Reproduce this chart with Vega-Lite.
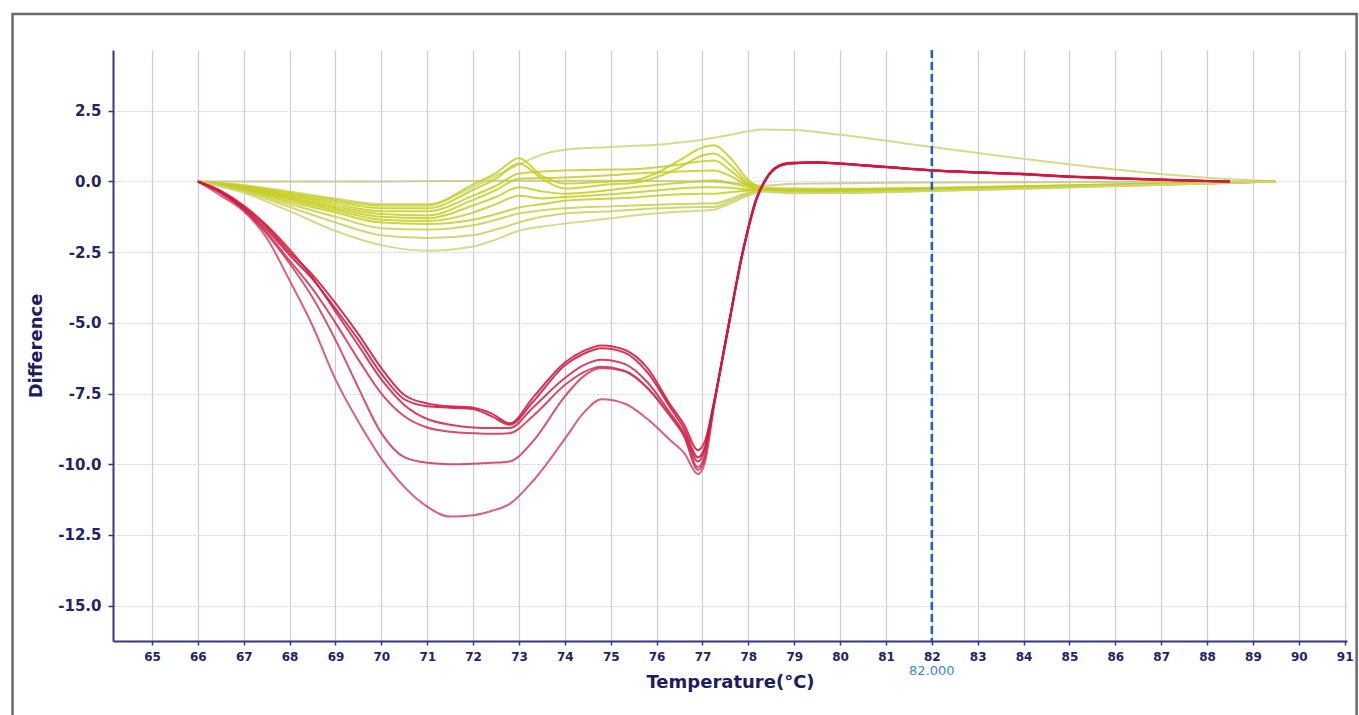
{
"$schema":"https://vega.github.io/schema/vega-lite/v6.json",
"width":1234,"height":591,
"autosize":{"type":"none"},
"padding":{"left":113,"top":50,"right":12,"bottom":74},
"background":"white",
"config":{
 "view":{"stroke":null},
 "font":"DejaVu Sans",
 "axis":{"domainColor":"#35358a","domainWidth":2,"tickColor":"#35358a","tickWidth":1.5,"labelColor":"#22226a","labelFont":"DejaVu Sans","labelFontWeight":"bold","titleColor":"#1c1c5e","titleFont":"DejaVu Sans","titleFontWeight":"bold","titleFontSize":18,"gridColor":"#c9cbe0","gridWidth":1.2},
 "axisX":{"labelFontSize":12,"tickSize":4,"labelPadding":6,"titlePadding":11},
 "axisY":{"labelFontSize":15,"tickSize":5,"labelPadding":7,"titlePadding":12,"gridDash":[2,2]}
},
"datasets":{
"yellow":[
{"s":"Y0","t":66,"v":0},{"s":"Y0","t":70,"v":0},{"s":"Y0","t":72,"v":0.02},{"s":"Y0","t":74,"v":0.03},{"s":"Y0","t":76,"v":0.02},{"s":"Y0","t":77,"v":0},{"s":"Y0","t":78,"v":-0.1},{"s":"Y0","t":78.3,"v":-0.15},{"s":"Y0","t":79,"v":-0.08},{"s":"Y0","t":82,"v":-0.04},{"s":"Y0","t":86,"v":-0.02},{"s":"Y0","t":89.5,"v":0},
{"s":"Y1","t":66,"v":0},{"s":"Y1","t":67,"v":-0.12},{"s":"Y1","t":68,"v":-0.35},{"s":"Y1","t":69,"v":-0.6},{"s":"Y1","t":70,"v":-0.8},{"s":"Y1","t":71,"v":-0.8},{"s":"Y1","t":72,"v":-0.2},{"s":"Y1","t":72.5,"v":0.2},{"s":"Y1","t":73,"v":0.6},{"s":"Y1","t":73.5,"v":0.95},{"s":"Y1","t":74,"v":1.12},{"s":"Y1","t":75,"v":1.22},{"s":"Y1","t":75.5,"v":1.26},{"s":"Y1","t":76,"v":1.3},{"s":"Y1","t":76.5,"v":1.38},{"s":"Y1","t":77,"v":1.48},{"s":"Y1","t":77.25,"v":1.55},{"s":"Y1","t":77.6,"v":1.65},{"s":"Y1","t":78,"v":1.78},{"s":"Y1","t":78.3,"v":1.84},{"s":"Y1","t":79,"v":1.82},{"s":"Y1","t":80,"v":1.65},{"s":"Y1","t":82,"v":1.22},{"s":"Y1","t":84,"v":0.8},{"s":"Y1","t":86,"v":0.42},{"s":"Y1","t":88,"v":0.13},{"s":"Y1","t":89.5,"v":0},
{"s":"Y2","t":66,"v":0},{"s":"Y2","t":67,"v":-0.15},{"s":"Y2","t":68,"v":-0.4},{"s":"Y2","t":69,"v":-0.65},{"s":"Y2","t":70,"v":-0.85},{"s":"Y2","t":71,"v":-0.85},{"s":"Y2","t":72,"v":-0.1},{"s":"Y2","t":72.5,"v":0.3},{"s":"Y2","t":73,"v":0.82},{"s":"Y2","t":73.5,"v":0.2},{"s":"Y2","t":74,"v":-0.07},{"s":"Y2","t":75,"v":0},{"s":"Y2","t":75.5,"v":0.04},{"s":"Y2","t":76,"v":0.3},{"s":"Y2","t":76.5,"v":0.75},{"s":"Y2","t":77,"v":1.2},{"s":"Y2","t":77.25,"v":1.28},{"s":"Y2","t":77.6,"v":0.85},{"s":"Y2","t":78,"v":0.05},{"s":"Y2","t":78.3,"v":-0.22},{"s":"Y2","t":79,"v":-0.25},{"s":"Y2","t":80,"v":-0.26},{"s":"Y2","t":82,"v":-0.22},{"s":"Y2","t":84,"v":-0.16},{"s":"Y2","t":86,"v":-0.1},{"s":"Y2","t":88,"v":-0.04},{"s":"Y2","t":89.5,"v":0},
{"s":"Y3","t":66,"v":0},{"s":"Y3","t":67,"v":-0.17},{"s":"Y3","t":68,"v":-0.45},{"s":"Y3","t":69,"v":-0.72},{"s":"Y3","t":70,"v":-0.95},{"s":"Y3","t":71,"v":-0.95},{"s":"Y3","t":72,"v":-0.3},{"s":"Y3","t":72.5,"v":0.1},{"s":"Y3","t":73,"v":0.64},{"s":"Y3","t":73.5,"v":0.1},{"s":"Y3","t":74,"v":-0.25},{"s":"Y3","t":75,"v":-0.1},{"s":"Y3","t":75.5,"v":-0.05},{"s":"Y3","t":76,"v":0.15},{"s":"Y3","t":76.5,"v":0.5},{"s":"Y3","t":77,"v":0.92},{"s":"Y3","t":77.25,"v":0.99},{"s":"Y3","t":77.6,"v":0.6},{"s":"Y3","t":78,"v":-0.05},{"s":"Y3","t":78.3,"v":-0.25},{"s":"Y3","t":79,"v":-0.28},{"s":"Y3","t":80,"v":-0.28},{"s":"Y3","t":82,"v":-0.24},{"s":"Y3","t":84,"v":-0.18},{"s":"Y3","t":86,"v":-0.11},{"s":"Y3","t":88,"v":-0.05},{"s":"Y3","t":89.5,"v":0},
{"s":"Y4","t":66,"v":0},{"s":"Y4","t":67,"v":-0.2},{"s":"Y4","t":68,"v":-0.5},{"s":"Y4","t":69,"v":-0.8},{"s":"Y4","t":70,"v":-1.05},{"s":"Y4","t":71,"v":-1.05},{"s":"Y4","t":72,"v":-0.5},{"s":"Y4","t":72.5,"v":-0.15},{"s":"Y4","t":73,"v":0.28},{"s":"Y4","t":73.5,"v":0.35},{"s":"Y4","t":74,"v":0.39},{"s":"Y4","t":75,"v":0.42},{"s":"Y4","t":75.5,"v":0.43},{"s":"Y4","t":76,"v":0.5},{"s":"Y4","t":76.5,"v":0.6},{"s":"Y4","t":77,"v":0.72},{"s":"Y4","t":77.25,"v":0.74},{"s":"Y4","t":77.6,"v":0.4},{"s":"Y4","t":78,"v":-0.1},{"s":"Y4","t":78.3,"v":-0.28},{"s":"Y4","t":79,"v":-0.3},{"s":"Y4","t":80,"v":-0.3},{"s":"Y4","t":82,"v":-0.26},{"s":"Y4","t":84,"v":-0.19},{"s":"Y4","t":86,"v":-0.12},{"s":"Y4","t":88,"v":-0.05},{"s":"Y4","t":89.5,"v":0},
{"s":"Y5","t":66,"v":0},{"s":"Y5","t":67,"v":-0.22},{"s":"Y5","t":68,"v":-0.55},{"s":"Y5","t":69,"v":-0.88},{"s":"Y5","t":70,"v":-1.15},{"s":"Y5","t":71,"v":-1.2},{"s":"Y5","t":72,"v":-0.65},{"s":"Y5","t":72.5,"v":-0.3},{"s":"Y5","t":73,"v":0.1},{"s":"Y5","t":73.5,"v":0.12},{"s":"Y5","t":74,"v":0.14},{"s":"Y5","t":75,"v":0.22},{"s":"Y5","t":75.5,"v":0.28},{"s":"Y5","t":76,"v":0.32},{"s":"Y5","t":76.5,"v":0.35},{"s":"Y5","t":77,"v":0.38},{"s":"Y5","t":77.25,"v":0.39},{"s":"Y5","t":77.6,"v":0.2},{"s":"Y5","t":78,"v":-0.15},{"s":"Y5","t":78.3,"v":-0.3},{"s":"Y5","t":79,"v":-0.32},{"s":"Y5","t":80,"v":-0.32},{"s":"Y5","t":82,"v":-0.27},{"s":"Y5","t":84,"v":-0.2},{"s":"Y5","t":86,"v":-0.13},{"s":"Y5","t":88,"v":-0.06},{"s":"Y5","t":89.5,"v":0},
{"s":"Y6","t":66,"v":0},{"s":"Y6","t":67,"v":-0.25},{"s":"Y6","t":68,"v":-0.6},{"s":"Y6","t":69,"v":-0.95},{"s":"Y6","t":70,"v":-1.25},{"s":"Y6","t":71,"v":-1.3},{"s":"Y6","t":72,"v":-0.85},{"s":"Y6","t":72.5,"v":-0.55},{"s":"Y6","t":73,"v":-0.2},{"s":"Y6","t":73.5,"v":-0.35},{"s":"Y6","t":74,"v":-0.43},{"s":"Y6","t":75,"v":-0.3},{"s":"Y6","t":75.5,"v":-0.2},{"s":"Y6","t":76,"v":-0.12},{"s":"Y6","t":76.5,"v":-0.05},{"s":"Y6","t":77,"v":0.02},{"s":"Y6","t":77.25,"v":0.04},{"s":"Y6","t":77.6,"v":-0.05},{"s":"Y6","t":78,"v":-0.2},{"s":"Y6","t":78.3,"v":-0.3},{"s":"Y6","t":79,"v":-0.33},{"s":"Y6","t":80,"v":-0.33},{"s":"Y6","t":82,"v":-0.28},{"s":"Y6","t":84,"v":-0.21},{"s":"Y6","t":86,"v":-0.14},{"s":"Y6","t":88,"v":-0.06},{"s":"Y6","t":89.5,"v":0},
{"s":"Y7","t":66,"v":0},{"s":"Y7","t":67,"v":-0.27},{"s":"Y7","t":68,"v":-0.65},{"s":"Y7","t":69,"v":-1.02},{"s":"Y7","t":70,"v":-1.35},{"s":"Y7","t":71,"v":-1.4},{"s":"Y7","t":72,"v":-1.1},{"s":"Y7","t":72.5,"v":-0.8},{"s":"Y7","t":73,"v":-0.5},{"s":"Y7","t":73.5,"v":-0.6},{"s":"Y7","t":74,"v":-0.55},{"s":"Y7","t":75,"v":-0.45},{"s":"Y7","t":75.5,"v":-0.39},{"s":"Y7","t":76,"v":-0.32},{"s":"Y7","t":76.5,"v":-0.25},{"s":"Y7","t":77,"v":-0.2},{"s":"Y7","t":77.25,"v":-0.2},{"s":"Y7","t":77.6,"v":-0.22},{"s":"Y7","t":78,"v":-0.28},{"s":"Y7","t":78.3,"v":-0.32},{"s":"Y7","t":79,"v":-0.35},{"s":"Y7","t":80,"v":-0.35},{"s":"Y7","t":82,"v":-0.3},{"s":"Y7","t":84,"v":-0.22},{"s":"Y7","t":86,"v":-0.14},{"s":"Y7","t":88,"v":-0.06},{"s":"Y7","t":89.5,"v":0},
{"s":"Y8","t":66,"v":0},{"s":"Y8","t":67,"v":-0.3},{"s":"Y8","t":68,"v":-0.72},{"s":"Y8","t":69,"v":-1.1},{"s":"Y8","t":70,"v":-1.45},{"s":"Y8","t":71,"v":-1.5},{"s":"Y8","t":72,"v":-1.35},{"s":"Y8","t":72.5,"v":-1.15},{"s":"Y8","t":73,"v":-0.92},{"s":"Y8","t":73.5,"v":-0.8},{"s":"Y8","t":74,"v":-0.68},{"s":"Y8","t":75,"v":-0.6},{"s":"Y8","t":75.5,"v":-0.57},{"s":"Y8","t":76,"v":-0.5},{"s":"Y8","t":76.5,"v":-0.45},{"s":"Y8","t":77,"v":-0.43},{"s":"Y8","t":77.25,"v":-0.43},{"s":"Y8","t":77.6,"v":-0.38},{"s":"Y8","t":78,"v":-0.32},{"s":"Y8","t":78.3,"v":-0.3},{"s":"Y8","t":79,"v":-0.36},{"s":"Y8","t":80,"v":-0.36},{"s":"Y8","t":82,"v":-0.31},{"s":"Y8","t":84,"v":-0.23},{"s":"Y8","t":86,"v":-0.15},{"s":"Y8","t":88,"v":-0.07},{"s":"Y8","t":89.5,"v":0},
{"s":"Y9","t":66,"v":0},{"s":"Y9","t":67,"v":-0.33},{"s":"Y9","t":68,"v":-0.8},{"s":"Y9","t":69,"v":-1.25},{"s":"Y9","t":70,"v":-1.65},{"s":"Y9","t":71,"v":-1.7},{"s":"Y9","t":72,"v":-1.55},{"s":"Y9","t":72.5,"v":-1.35},{"s":"Y9","t":73,"v":-1.13},{"s":"Y9","t":73.5,"v":-1.02},{"s":"Y9","t":74,"v":-0.95},{"s":"Y9","t":75,"v":-0.88},{"s":"Y9","t":75.5,"v":-0.85},{"s":"Y9","t":76,"v":-0.82},{"s":"Y9","t":76.5,"v":-0.8},{"s":"Y9","t":77,"v":-0.78},{"s":"Y9","t":77.25,"v":-0.78},{"s":"Y9","t":77.6,"v":-0.62},{"s":"Y9","t":78,"v":-0.4},{"s":"Y9","t":78.3,"v":-0.33},{"s":"Y9","t":79,"v":-0.38},{"s":"Y9","t":80,"v":-0.38},{"s":"Y9","t":82,"v":-0.32},{"s":"Y9","t":84,"v":-0.24},{"s":"Y9","t":86,"v":-0.15},{"s":"Y9","t":88,"v":-0.07},{"s":"Y9","t":89.5,"v":0},
{"s":"Y10","t":66,"v":0},{"s":"Y10","t":67,"v":-0.36},{"s":"Y10","t":68,"v":-0.9},{"s":"Y10","t":69,"v":-1.45},{"s":"Y10","t":70,"v":-1.9},{"s":"Y10","t":71,"v":-2.0},{"s":"Y10","t":72,"v":-1.9},{"s":"Y10","t":72.5,"v":-1.7},{"s":"Y10","t":73,"v":-1.45},{"s":"Y10","t":73.5,"v":-1.25},{"s":"Y10","t":74,"v":-1.13},{"s":"Y10","t":75,"v":-1.05},{"s":"Y10","t":75.5,"v":-1.0},{"s":"Y10","t":76,"v":-0.95},{"s":"Y10","t":76.5,"v":-0.92},{"s":"Y10","t":77,"v":-0.9},{"s":"Y10","t":77.25,"v":-0.9},{"s":"Y10","t":77.6,"v":-0.7},{"s":"Y10","t":78,"v":-0.45},{"s":"Y10","t":78.3,"v":-0.34},{"s":"Y10","t":79,"v":-0.4},{"s":"Y10","t":80,"v":-0.4},{"s":"Y10","t":82,"v":-0.33},{"s":"Y10","t":84,"v":-0.25},{"s":"Y10","t":86,"v":-0.16},{"s":"Y10","t":88,"v":-0.07},{"s":"Y10","t":89.5,"v":0},
{"s":"Y11","t":66,"v":0},{"s":"Y11","t":67,"v":-0.4},{"s":"Y11","t":68,"v":-1.05},{"s":"Y11","t":69,"v":-1.75},{"s":"Y11","t":70,"v":-2.25},{"s":"Y11","t":71,"v":-2.45},{"s":"Y11","t":72,"v":-2.3},{"s":"Y11","t":72.5,"v":-2.05},{"s":"Y11","t":73,"v":-1.74},{"s":"Y11","t":73.5,"v":-1.6},{"s":"Y11","t":74,"v":-1.49},{"s":"Y11","t":75,"v":-1.3},{"s":"Y11","t":75.5,"v":-1.2},{"s":"Y11","t":76,"v":-1.12},{"s":"Y11","t":76.5,"v":-1.07},{"s":"Y11","t":77,"v":-1.03},{"s":"Y11","t":77.25,"v":-1.0},{"s":"Y11","t":77.6,"v":-0.78},{"s":"Y11","t":78,"v":-0.5},{"s":"Y11","t":78.3,"v":-0.36},{"s":"Y11","t":79,"v":-0.42},{"s":"Y11","t":80,"v":-0.41},{"s":"Y11","t":82,"v":-0.34},{"s":"Y11","t":84,"v":-0.26},{"s":"Y11","t":86,"v":-0.16},{"s":"Y11","t":88,"v":-0.07},{"s":"Y11","t":89.5,"v":0}
],
"red":[
{"s":"R5","t":66,"v":0},{"s":"R5","t":66.5,"v":-0.5},{"s":"R5","t":67,"v":-1.05},{"s":"R5","t":67.5,"v":-2.0},{"s":"R5","t":68,"v":-3.5},{"s":"R5","t":68.5,"v":-5.1},{"s":"R5","t":69,"v":-7.0},{"s":"R5","t":69.5,"v":-8.5},{"s":"R5","t":70,"v":-9.8},{"s":"R5","t":70.5,"v":-10.8},{"s":"R5","t":71,"v":-11.5},{"s":"R5","t":71.5,"v":-11.85},{"s":"R5","t":72,"v":-11.8},{"s":"R5","t":72.4,"v":-11.65},{"s":"R5","t":72.8,"v":-11.4},{"s":"R5","t":73.3,"v":-10.6},{"s":"R5","t":74,"v":-9.1},{"s":"R5","t":74.4,"v":-8.2},{"s":"R5","t":74.8,"v":-7.7},{"s":"R5","t":75.3,"v":-7.85},{"s":"R5","t":75.8,"v":-8.4},{"s":"R5","t":76.3,"v":-9.15},{"s":"R5","t":76.6,"v":-9.6},{"s":"R5","t":76.9,"v":-10.35},{"s":"R5","t":77.05,"v":-9.95},{"s":"R5","t":77.25,"v":-7.95},{"s":"R5","t":77.53,"v":-5.47},{"s":"R5","t":77.88,"v":-2.52},{"s":"R5","t":78.18,"v":-0.63},{"s":"R5","t":78.4,"v":0.11},{"s":"R5","t":78.6,"v":0.47},{"s":"R5","t":78.9,"v":0.63},{"s":"R5","t":79.5,"v":0.66},{"s":"R5","t":80,"v":0.62},{"s":"R5","t":81,"v":0.5},{"s":"R5","t":82,"v":0.38},{"s":"R5","t":83,"v":0.31},{"s":"R5","t":84,"v":0.25},{"s":"R5","t":85,"v":0.16},{"s":"R5","t":86,"v":0.1},{"s":"R5","t":87,"v":0.05},{"s":"R5","t":88,"v":0.01},{"s":"R5","t":88.5,"v":0},
{"s":"R4","t":66,"v":0},{"s":"R4","t":66.5,"v":-0.4},{"s":"R4","t":67,"v":-1.0},{"s":"R4","t":67.5,"v":-1.85},{"s":"R4","t":68,"v":-2.9},{"s":"R4","t":68.5,"v":-4.1},{"s":"R4","t":69,"v":-5.6},{"s":"R4","t":69.5,"v":-7.3},{"s":"R4","t":70,"v":-8.9},{"s":"R4","t":70.5,"v":-9.75},{"s":"R4","t":71,"v":-9.95},{"s":"R4","t":71.5,"v":-10.0},{"s":"R4","t":72,"v":-9.98},{"s":"R4","t":72.4,"v":-9.95},{"s":"R4","t":72.8,"v":-9.9},{"s":"R4","t":73.3,"v":-9.2},{"s":"R4","t":74,"v":-7.6},{"s":"R4","t":74.4,"v":-6.9},{"s":"R4","t":74.8,"v":-6.6},{"s":"R4","t":75.3,"v":-6.7},{"s":"R4","t":75.8,"v":-7.3},{"s":"R4","t":76.3,"v":-8.3},{"s":"R4","t":76.6,"v":-9.0},{"s":"R4","t":76.9,"v":-10.2},{"s":"R4","t":77.05,"v":-9.8},{"s":"R4","t":77.25,"v":-7.9},{"s":"R4","t":77.53,"v":-5.45},{"s":"R4","t":77.88,"v":-2.5},{"s":"R4","t":78.18,"v":-0.62},{"s":"R4","t":78.4,"v":0.12},{"s":"R4","t":78.6,"v":0.48},{"s":"R4","t":78.9,"v":0.64},{"s":"R4","t":79.5,"v":0.67},{"s":"R4","t":80,"v":0.63},{"s":"R4","t":81,"v":0.51},{"s":"R4","t":82,"v":0.39},{"s":"R4","t":83,"v":0.32},{"s":"R4","t":84,"v":0.26},{"s":"R4","t":85,"v":0.17},{"s":"R4","t":86,"v":0.11},{"s":"R4","t":87,"v":0.06},{"s":"R4","t":88,"v":0.02},{"s":"R4","t":88.5,"v":0},
{"s":"R3","t":66,"v":0},{"s":"R3","t":66.5,"v":-0.4},{"s":"R3","t":67,"v":-1.0},{"s":"R3","t":67.5,"v":-1.8},{"s":"R3","t":68,"v":-2.8},{"s":"R3","t":68.5,"v":-3.8},{"s":"R3","t":69,"v":-5.0},{"s":"R3","t":69.5,"v":-6.3},{"s":"R3","t":70,"v":-7.5},{"s":"R3","t":70.5,"v":-8.3},{"s":"R3","t":71,"v":-8.7},{"s":"R3","t":71.5,"v":-8.85},{"s":"R3","t":72,"v":-8.9},{"s":"R3","t":72.4,"v":-8.92},{"s":"R3","t":72.8,"v":-8.9},{"s":"R3","t":73.3,"v":-8.3},{"s":"R3","t":74,"v":-7.2},{"s":"R3","t":74.4,"v":-6.75},{"s":"R3","t":74.8,"v":-6.55},{"s":"R3","t":75.3,"v":-6.7},{"s":"R3","t":75.8,"v":-7.3},{"s":"R3","t":76.3,"v":-8.3},{"s":"R3","t":76.6,"v":-9.0},{"s":"R3","t":76.9,"v":-10.1},{"s":"R3","t":77.05,"v":-9.7},{"s":"R3","t":77.25,"v":-7.9},{"s":"R3","t":77.53,"v":-5.45},{"s":"R3","t":77.88,"v":-2.5},{"s":"R3","t":78.18,"v":-0.62},{"s":"R3","t":78.4,"v":0.12},{"s":"R3","t":78.6,"v":0.48},{"s":"R3","t":78.9,"v":0.64},{"s":"R3","t":79.5,"v":0.67},{"s":"R3","t":80,"v":0.63},{"s":"R3","t":81,"v":0.51},{"s":"R3","t":82,"v":0.39},{"s":"R3","t":83,"v":0.32},{"s":"R3","t":84,"v":0.26},{"s":"R3","t":85,"v":0.17},{"s":"R3","t":86,"v":0.11},{"s":"R3","t":87,"v":0.06},{"s":"R3","t":88,"v":0.02},{"s":"R3","t":88.5,"v":0},
{"s":"R2","t":66,"v":0},{"s":"R2","t":66.5,"v":-0.33},{"s":"R2","t":67,"v":-0.85},{"s":"R2","t":67.5,"v":-1.55},{"s":"R2","t":68,"v":-2.4},{"s":"R2","t":68.5,"v":-3.4},{"s":"R2","t":69,"v":-4.6},{"s":"R2","t":69.5,"v":-5.8},{"s":"R2","t":70,"v":-7.0},{"s":"R2","t":70.5,"v":-7.9},{"s":"R2","t":71,"v":-8.4},{"s":"R2","t":71.5,"v":-8.6},{"s":"R2","t":72,"v":-8.7},{"s":"R2","t":72.4,"v":-8.72},{"s":"R2","t":72.8,"v":-8.72},{"s":"R2","t":73.3,"v":-8.0},{"s":"R2","t":74,"v":-6.95},{"s":"R2","t":74.4,"v":-6.5},{"s":"R2","t":74.8,"v":-6.3},{"s":"R2","t":75.3,"v":-6.45},{"s":"R2","t":75.8,"v":-7.1},{"s":"R2","t":76.3,"v":-8.2},{"s":"R2","t":76.6,"v":-8.9},{"s":"R2","t":76.9,"v":-9.9},{"s":"R2","t":77.05,"v":-9.5},{"s":"R2","t":77.25,"v":-7.85},{"s":"R2","t":77.53,"v":-5.43},{"s":"R2","t":77.88,"v":-2.48},{"s":"R2","t":78.18,"v":-0.6},{"s":"R2","t":78.4,"v":0.13},{"s":"R2","t":78.6,"v":0.49},{"s":"R2","t":78.9,"v":0.65},{"s":"R2","t":79.5,"v":0.68},{"s":"R2","t":80,"v":0.64},{"s":"R2","t":81,"v":0.52},{"s":"R2","t":82,"v":0.4},{"s":"R2","t":83,"v":0.33},{"s":"R2","t":84,"v":0.27},{"s":"R2","t":85,"v":0.18},{"s":"R2","t":86,"v":0.12},{"s":"R2","t":87,"v":0.07},{"s":"R2","t":88,"v":0.02},{"s":"R2","t":88.5,"v":0},
{"s":"R1b","t":66,"v":0},{"s":"R1b","t":66.5,"v":-0.38},{"s":"R1b","t":67,"v":-0.95},{"s":"R1b","t":67.5,"v":-1.7},{"s":"R1b","t":68,"v":-2.6},{"s":"R1b","t":68.5,"v":-3.45},{"s":"R1b","t":69,"v":-4.5},{"s":"R1b","t":69.5,"v":-5.6},{"s":"R1b","t":70,"v":-6.8},{"s":"R1b","t":70.5,"v":-7.7},{"s":"R1b","t":71,"v":-7.95},{"s":"R1b","t":71.5,"v":-8.0},{"s":"R1b","t":72,"v":-8.05},{"s":"R1b","t":72.4,"v":-8.3},{"s":"R1b","t":72.8,"v":-8.6},{"s":"R1b","t":73.3,"v":-7.8},{"s":"R1b","t":74,"v":-6.5},{"s":"R1b","t":74.4,"v":-6.1},{"s":"R1b","t":74.8,"v":-5.9},{"s":"R1b","t":75.3,"v":-6.05},{"s":"R1b","t":75.8,"v":-6.75},{"s":"R1b","t":76.3,"v":-8.0},{"s":"R1b","t":76.6,"v":-8.75},{"s":"R1b","t":76.9,"v":-9.75},{"s":"R1b","t":77.05,"v":-9.4},{"s":"R1b","t":77.25,"v":-7.85},{"s":"R1b","t":77.53,"v":-5.42},{"s":"R1b","t":77.88,"v":-2.47},{"s":"R1b","t":78.18,"v":-0.6},{"s":"R1b","t":78.4,"v":0.12},{"s":"R1b","t":78.6,"v":0.48},{"s":"R1b","t":78.9,"v":0.64},{"s":"R1b","t":79.5,"v":0.67},{"s":"R1b","t":80,"v":0.63},{"s":"R1b","t":81,"v":0.51},{"s":"R1b","t":82,"v":0.39},{"s":"R1b","t":83,"v":0.32},{"s":"R1b","t":84,"v":0.26},{"s":"R1b","t":85,"v":0.17},{"s":"R1b","t":86,"v":0.11},{"s":"R1b","t":87,"v":0.06},{"s":"R1b","t":88,"v":0.02},{"s":"R1b","t":88.5,"v":0},
{"s":"R1a","t":66,"v":0},{"s":"R1a","t":66.5,"v":-0.35},{"s":"R1a","t":67,"v":-0.9},{"s":"R1a","t":67.5,"v":-1.6},{"s":"R1a","t":68,"v":-2.5},{"s":"R1a","t":68.5,"v":-3.3},{"s":"R1a","t":69,"v":-4.3},{"s":"R1a","t":69.5,"v":-5.4},{"s":"R1a","t":70,"v":-6.6},{"s":"R1a","t":70.5,"v":-7.55},{"s":"R1a","t":71,"v":-7.85},{"s":"R1a","t":71.5,"v":-7.95},{"s":"R1a","t":72,"v":-8.0},{"s":"R1a","t":72.4,"v":-8.2},{"s":"R1a","t":72.8,"v":-8.55},{"s":"R1a","t":73.3,"v":-7.65},{"s":"R1a","t":74,"v":-6.4},{"s":"R1a","t":74.4,"v":-6.0},{"s":"R1a","t":74.8,"v":-5.8},{"s":"R1a","t":75.3,"v":-5.95},{"s":"R1a","t":75.8,"v":-6.6},{"s":"R1a","t":76.3,"v":-7.9},{"s":"R1a","t":76.6,"v":-8.6},{"s":"R1a","t":76.9,"v":-9.5},{"s":"R1a","t":77.05,"v":-9.2},{"s":"R1a","t":77.25,"v":-7.8},{"s":"R1a","t":77.53,"v":-5.4},{"s":"R1a","t":77.88,"v":-2.45},{"s":"R1a","t":78.18,"v":-0.57},{"s":"R1a","t":78.4,"v":0.14},{"s":"R1a","t":78.6,"v":0.5},{"s":"R1a","t":78.9,"v":0.66},{"s":"R1a","t":79.5,"v":0.68},{"s":"R1a","t":80,"v":0.64},{"s":"R1a","t":81,"v":0.52},{"s":"R1a","t":82,"v":0.4},{"s":"R1a","t":83,"v":0.33},{"s":"R1a","t":84,"v":0.27},{"s":"R1a","t":85,"v":0.18},{"s":"R1a","t":86,"v":0.12},{"s":"R1a","t":87,"v":0.07},{"s":"R1a","t":88,"v":0.02},{"s":"R1a","t":88.5,"v":0}
],
"one":[{"k":1}]
},
"layer":[
{"data":{"name":"one"},
 "mark":{"type":"rect","fillOpacity":0,"stroke":"#6a6a6a","strokeWidth":2.5,"clip":false},
 "encoding":{
  "x":{"datum":61.96,"type":"quantitative","scale":{"domain":[64.15,91.05],"nice":false,"zero":false},"title":"Temperature(°C)"},
  "x2":{"datum":91.26},
  "y":{"datum":5.92,"type":"quantitative","scale":{"domain":[-16.25,4.65],"nice":false,"zero":false},"title":"Difference"},
  "y2":{"datum":-19.5}}},
{"data":{"name":"yellow"},
 "mark":{"type":"line","interpolate":"monotone","strokeWidth":2,"opacity":0.85},
 "encoding":{
  "x":{"field":"t","type":"quantitative","scale":{"domain":[64.15,91.05],"nice":false,"zero":false},"title":"Temperature(°C)",
   "axis":{"values":[65,66,67,68,69,70,71,72,73,74,75,76,77,78,79,80,81,82,83,84,85,86,87,88,89,90,91],"format":"d","labelOverlap":false,"labelFlush":false,"grid":true}},
  "y":{"field":"v","type":"quantitative","scale":{"domain":[-16.25,4.65],"nice":false,"zero":false},"title":"Difference",
   "axis":{"values":[-15,-12.5,-10,-7.5,-5,-2.5,0,2.5],"labelExpr":"replace(format(datum.value,'.1f'),'−','-')","grid":true}},
  "color":{"field":"s","type":"nominal","legend":null,
   "scale":{"domain":["Y0","Y1","Y2","Y3","Y4","Y5","Y6","Y7","Y8","Y9","Y10","Y11","R1a","R1b","R2","R3","R4","R5"],
            "range":["#c4c48c","#d0d478","#c6ce1e","#c6ce1e","#c6ce1e","#c6ce1e","#c6ce1e","#c6ce1e","#c6ce1e","#c9d046","#cbd05a","#cfd378","#d0183c","#d0183c","#d22848","#d23454","#d03a5c","#d44a6c"]}}}},
{"data":{"name":"red"},
 "mark":{"type":"line","interpolate":"monotone","strokeWidth":2,"opacity":0.88},
 "encoding":{
  "x":{"field":"t","type":"quantitative","scale":{"domain":[64.15,91.05],"nice":false,"zero":false},"title":"Temperature(°C)"},
  "y":{"field":"v","type":"quantitative","scale":{"domain":[-16.25,4.65],"nice":false,"zero":false},"title":"Difference"},
  "color":{"field":"s","type":"nominal","legend":null}}},
{"data":{"name":"one"},
 "mark":{"type":"rule","color":"#1e5fc4","strokeWidth":2.5,"strokeDash":[8,4]},
 "encoding":{"x":{"datum":82,"type":"quantitative","title":"Temperature(°C)"}}},
{"data":{"name":"one"},
 "mark":{"type":"text","text":"82.000","color":"#3a86d8","fontSize":13,"fontWeight":"normal","font":"DejaVu Sans","baseline":"top","align":"center","dy":24,"clip":false},
 "encoding":{"x":{"datum":82,"type":"quantitative","title":"Temperature(°C)"},"y":{"datum":-16.25,"type":"quantitative","title":"Difference"}}}
]
}
